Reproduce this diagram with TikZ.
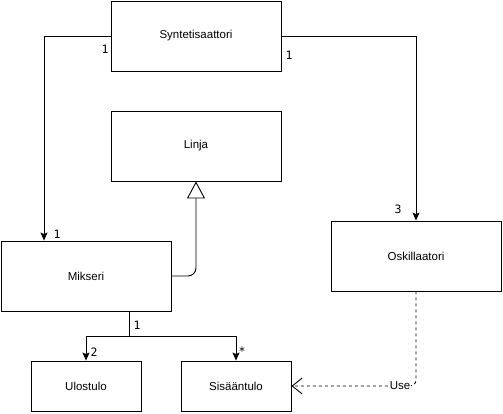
\documentclass[tikz,border=0pt]{standalone}
\usepackage{fontspec}
\setmainfont{Liberation Sans}
\newfontfamily\numfont{DejaVu Sans Mono}
\usetikzlibrary{arrows.meta}

\begin{document}
\begin{tikzpicture}[x=1pt, y=-1pt, line width=0.9pt,
        classbox/.style={draw, minimum width=170pt, minimum height=70pt, inner sep=0pt, font=\fontsize{11.5}{13}\selectfont},
        partbox/.style={draw, minimum width=110pt, minimum height=50pt, inner sep=0pt, font=\fontsize{11.5}{13}\selectfont},
        assoc/.style={-{Stealth[length=8pt, width=7pt, inset=1.5pt]}},
        inherit/.style={-{Triangle[open, fill=white, length=17pt, width=18pt]}, rounded corners=8pt},
        depend/.style={dash pattern=on 3pt off 3pt, -{Straight Barb[length=10pt, width=16pt]}, rounded corners=6pt},
        mult/.style={inner sep=0pt, font=\numfont\fontsize{11.5}{13}\selectfont}]
            \useasboundingbox (0, 0) rectangle (503, 413);

            % Classes
            \node[classbox] (synt) at (196, 36) {Syntetisaattori};
            \node[classbox] (linja) at (196, 146) {Linja};
            \node[classbox] (mikseri) at (86, 276) {Mikseri};
            \node[classbox] (oskil) at (416, 256) {Oskillaatori};
            \node[partbox] (ulos) at (86, 386) {Ulostulo};
            \node[partbox] (sisaan) at (236, 386) {Sisääntulo};

            % Connectors
            \draw[assoc] (synt.west) -| ([xshift=-42pt]mikseri.north);
            \draw[assoc] (synt.east) -| (oskil.north);
            \draw[inherit] (mikseri.east) -| (linja.south);
            \coordinate (split) at ([xshift=43pt, yshift=-25pt]mikseri.south);
            \draw ([xshift=43pt]mikseri.south) -- (split);
            \draw[assoc] (split) -| (ulos.north);
            \draw[assoc] (split) -| (sisaan.north);
            \draw[depend] (oskil.south) |- (sisaan.east)
                node[pos=0.564, fill=white, inner sep=0.5pt, font=\fontsize{11.5}{13}\selectfont] (use) {Use};

            % Multiplicities
            \node[mult] (m1) at (105, 49) {1};
            \node[mult] (m2) at (57, 234) {1};
            \node[mult] (m3) at (289, 55) {1};
            \node[mult] (m4) at (398, 209) {3};
            \node[mult] (m5) at (137, 325) {1};
            \node[mult] (m6) at (94, 352) {2};
            \node[mult] (m7) at (242, 351) {*};
        \end{tikzpicture}
\end{document}
